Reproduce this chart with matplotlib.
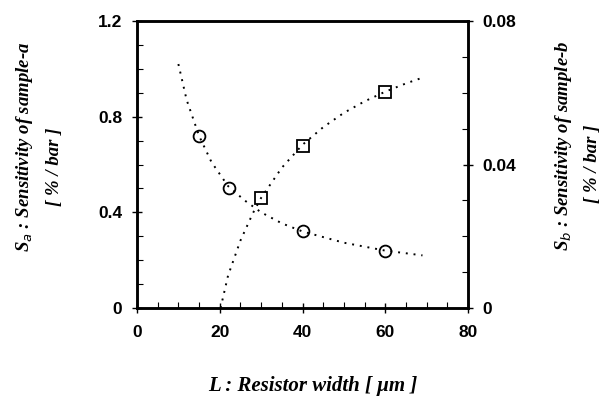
import matplotlib.pyplot as plt
from matplotlib.ticker import MultipleLocator, FixedLocator

# measured points
width_a = [15, 22.3, 40, 60]
sens_a = [0.72, 0.50, 0.32, 0.24]
width_b = [30, 40, 60]
sens_b = [0.0306, 0.0452, 0.0603]

# trend curves
curve_a_x = [10, 12, 15, 18, 22, 26, 30, 35, 40, 50, 60, 69]
curve_a_y = [1.02, 0.87, 0.72, 0.61, 0.51, 0.45, 0.40, 0.354, 0.32, 0.273, 0.24, 0.22]
curve_b_x = [20.2, 22, 25, 28, 30, 35, 40, 45, 50, 55, 60, 65, 69]
curve_b_y = [0.0, 0.009, 0.0188, 0.0264, 0.0307, 0.0391, 0.0455, 0.0504,
             0.0544, 0.0576, 0.0603, 0.0626, 0.0642]

TICK_FONT = {"family": "Liberation Sans", "weight": "bold", "size": 12.5}
LABEL_FONT = {"family": "Liberation Serif", "weight": "bold", "style": "italic", "size": 13.5}
DOTS = (0, (1, 3))

fig = plt.figure(figsize=(6.08, 4.05), dpi=100)
ax = fig.add_axes([137 / 608, 1 - 308 / 405, (468 - 137) / 608, (308 - 21) / 405])
ax2 = ax.twinx()

ax.plot(curve_a_x, curve_a_y, color="black", linestyle=DOTS, linewidth=1.4)
ax.plot(width_a, sens_a, linestyle="none", marker="o", markersize=8.5,
        markerfacecolor="none", markeredgecolor="black", markeredgewidth=1.3)
ax2.plot(curve_b_x, curve_b_y, color="black", linestyle=DOTS, linewidth=1.4)
ax2.plot(width_b, sens_b, linestyle="none", marker="s", markersize=8.5,
         markerfacecolor="none", markeredgecolor="black", markeredgewidth=1.3)

ax.set_xlim(0, 80)
ax.set_ylim(0, 1.2)
ax2.set_ylim(0, 0.08)

ax.xaxis.set_major_locator(FixedLocator([0, 20, 40, 60, 80]))
ax.xaxis.set_minor_locator(MultipleLocator(5))
ax.yaxis.set_major_locator(FixedLocator([0, 0.4, 0.8, 1.2]))
ax.yaxis.set_minor_locator(MultipleLocator(0.1))
ax2.yaxis.set_major_locator(FixedLocator([0, 0.04, 0.08]))
ax2.yaxis.set_minor_locator(MultipleLocator(0.01))

ax.set_xticklabels(["0", "20", "40", "60", "80"], fontdict=TICK_FONT)
ax.set_yticklabels(["0", "0.4", "0.8", "1.2"], fontdict=TICK_FONT)
ax2.set_yticklabels(["0", "0.04", "0.08"], fontdict=TICK_FONT)

for a in (ax, ax2):
    for side in a.spines.values():
        side.set_linewidth(1.8)
    a.tick_params(which="major", direction="inout", length=7, width=1.0, pad=7)
    a.tick_params(which="minor", direction="in", length=4, width=0.8)
ax.tick_params(axis="x", pad=9)

fig.text(313 / 608, 1 - 386 / 405, "L : Resistor width [ μm ]",
         ha="center", va="center", family="Liberation Serif", weight="bold",
         style="italic", size=15)
fig.text(25 / 608, 1 - 147 / 405, r"S$_a$ : Sensitivity of sample-a",
         ha="center", va="center", rotation=90, **LABEL_FONT)
fig.text(55 / 608, 1 - 167 / 405, "[ % / bar ]",
         ha="center", va="center", rotation=90, **LABEL_FONT)
fig.text(563 / 608, 1 - 146 / 405, r"S$_b$ : Sensitivity of sample-b",
         ha="center", va="center", rotation=90, **LABEL_FONT)
fig.text(593 / 608, 1 - 164 / 405, "[ % / bar ]",
         ha="center", va="center", rotation=90, **LABEL_FONT)

fig.savefig("out.png", dpi=100)
